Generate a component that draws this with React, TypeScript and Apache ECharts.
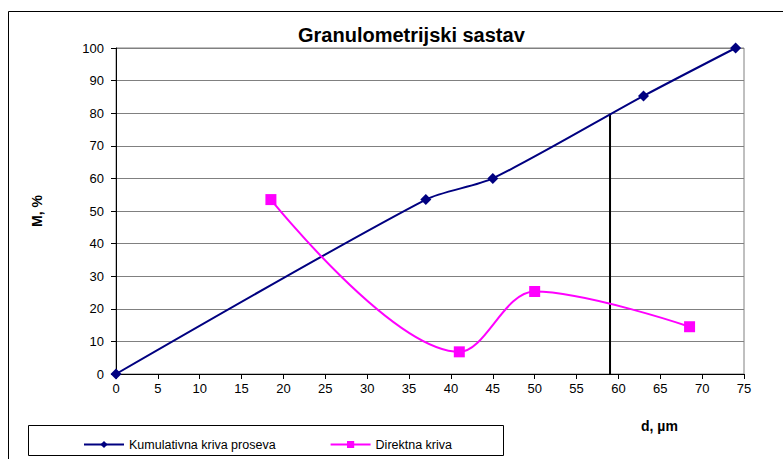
import React, { useEffect, useRef } from "react";
import * as echarts from "echarts";

const kumulativnaX = [0, 37, 45, 63, 74];
const kumulativnaY = [0, 53.5, 60, 85.3, 100];
const direktnaX = [18.5, 41, 50, 68.5];
const direktnaY = [53.5, 6.8, 25.3, 14.5];
const markerX = [59, 59];
const markerY = [0, 79.8];
const seriesNames = ["Kumulativna kriva proseva", "Direktna kriva"];
const titleText = "Granulometrijski sastav";
const yName = "M, %";
const xName = "d, µm";

export default function App() {
  const ref = useRef<HTMLDivElement>(null);
  useEffect(() => {
    if (!ref.current) return;
    const chart = echarts.init(ref.current, null, { renderer: "svg" });
    const font = "Arial, 'Liberation Sans', sans-serif";
    chart.setOption({
      animation: false,
      backgroundColor: "#ffffff",
      textStyle: { fontFamily: font },
      title: {
        text: titleText,
        left: 293,
        top: 20,
        textStyle: { fontSize: 20, fontWeight: "bold", color: "#000", fontFamily: font },
      },
      grid: {
        left: 116,
        right: 39,
        top: 48,
        bottom: 85,
        show: true,
        borderColor: "#808080",
        borderWidth: 1,
      },
      xAxis: {
        type: "value",
        min: 0,
        max: 75,
        interval: 5,
        axisLine: { lineStyle: { color: "#000", width: 1 } },
        axisTick: { show: true, length: 5, lineStyle: { color: "#000" } },
        axisLabel: { color: "#000", fontSize: 13, margin: 8, fontFamily: font },
        splitLine: { show: false },
      },
      yAxis: {
        type: "value",
        min: 0,
        max: 100,
        interval: 10,
        name: yName,
        nameLocation: "middle",
        nameGap: 72,
        nameRotate: 90,
        nameTextStyle: { fontSize: 14, fontWeight: "bold", color: "#000", fontFamily: font },
        axisLine: { show: true, lineStyle: { color: "#000", width: 1 } },
        axisTick: { show: true, length: 5, lineStyle: { color: "#000" } },
        axisLabel: { color: "#000", fontSize: 13, margin: 12, fontFamily: font },
        splitLine: { show: true, lineStyle: { color: "#808080", width: 1 } },
      },
      legend: {
        left: 78,
        top: 433,
        itemWidth: 40,
        itemHeight: 9,
        itemGap: 54,
        data: seriesNames,
        textStyle: { fontSize: 12.5, color: "#000", fontFamily: font },
      },
      graphic: [
        {
          type: "rect",
          shape: { x: 8.5, y: 11.5, width: 790, height: 470 },
          style: { fill: "none", stroke: "#000", lineWidth: 1 },
          silent: true,
          z: -1,
        },
        {
          type: "rect",
          shape: { x: 28.5, y: 425.5, width: 475, height: 30 },
          style: { fill: "none", stroke: "#000", lineWidth: 1 },
          silent: true,
        },
        {
          type: "text",
          left: 641,
          top: 419,
          style: { text: xName, font: `bold 14px ${font}`, fill: "#000" },
        },
      ],
      series: [
        {
          name: "marker",
          type: "line",
          data: markerX.map((x, i) => [x, markerY[i]]),
          showSymbol: false,
          symbol: "none",
          lineStyle: { color: "#000", width: 2 },
          z: 1,
          silent: true,
        },
        {
          name: seriesNames[0],
          type: "line",
          data: kumulativnaX.map((x, i) => [x, kumulativnaY[i]]),
          smooth: 0.25,
          symbol: "diamond",
          symbolSize: 11,
          itemStyle: { color: "#000080" },
          lineStyle: { color: "#000080", width: 2 },
          z: 3,
        },
        {
          name: seriesNames[1],
          type: "line",
          data: direktnaX.map((x, i) => [x, direktnaY[i]]),
          smooth: 0.35,
          symbol: "rect",
          symbolSize: 11,
          itemStyle: { color: "#FF00FF" },
          lineStyle: { color: "#FF00FF", width: 2 },
          z: 3,
        },
      ],
    });
    return () => chart.dispose();
  }, []);
  return (
    <div
      ref={ref}
      style={{ position: "absolute", left: 0, top: 0, width: 783, height: 459 }}
    />
  );
}
